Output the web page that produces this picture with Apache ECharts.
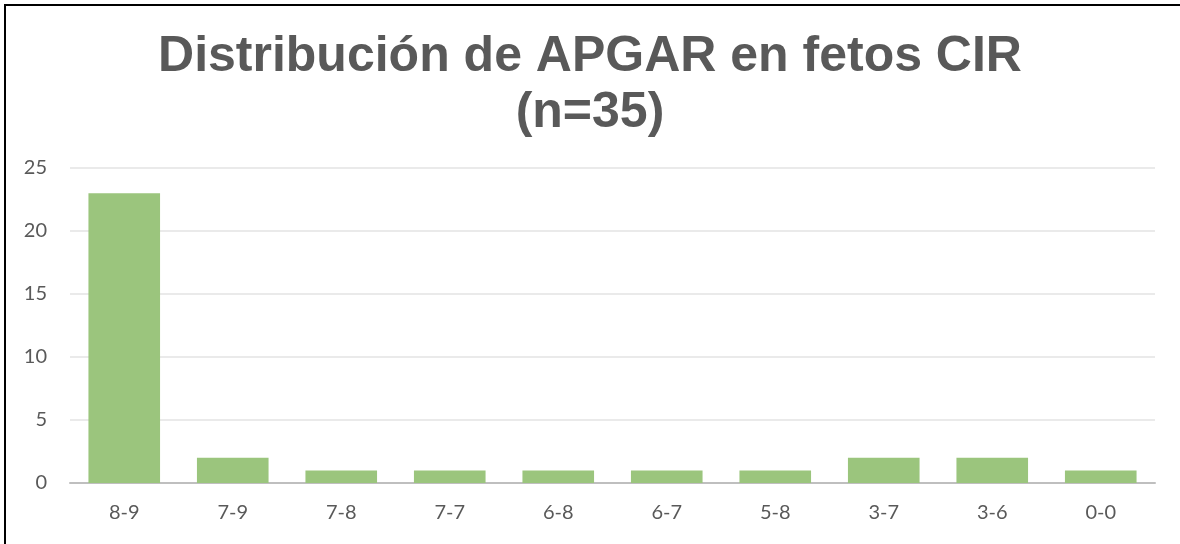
<!DOCTYPE html>
<html>
<head>
<meta charset="utf-8">
<script src="https://cdn.jsdelivr.net/npm/echarts@6/dist/echarts.min.js"></script>
<style>
  html, body { margin: 0; padding: 0; background: #fff; overflow: hidden; }
  #chart { width: 1180px; height: 544px; }
  .frame {
    position: absolute; left: 4px; top: 4px; width: 1176px; height: 540px;
    border-top: 2px solid #000; border-left: 2px solid #000;
    box-sizing: border-box;
    pointer-events: none;
  }
</style>
</head>
<body>
<div id="chart"></div>
<div class="frame"></div>
<script>
const titleText = 'Distribución de APGAR en fetos CIR\n(n=35)';
const categories = ['8-9', '7-9', '7-8', '7-7', '6-8', '6-7', '5-8', '3-7', '3-6', '0-0'];
const counts = [23, 2, 1, 1, 1, 1, 1, 2, 2, 1];

const myChart = echarts.init(document.getElementById('chart'));
const option = {
    animation: false,
    title: {
        text: titleText,
        left: 'center',
        top: 24,
        textStyle: {
            fontFamily: 'Liberation Sans',
            fontWeight: 'bold',
            fontSize: 50,
            lineHeight: 56,
            color: '#595959'
        }
    },
    grid: {
        left: 70,
        right: 25,
        top: 168,
        bottom: 61
    },
    xAxis: {
        type: 'category',
        data: categories,
        axisLine: { lineStyle: { color: '#bfbfbf', width: 2 } },
        axisTick: { show: false },
        axisLabel: {
            color: '#595959',
            fontFamily: 'Lato',
            fontSize: 20,
            margin: 20
        }
    },
    yAxis: {
        type: 'value',
        min: 0,
        max: 25,
        interval: 5,
        axisLine: { show: false },
        axisTick: { show: false },
        splitLine: { lineStyle: { color: '#e3e3e3', width: 1.5 } },
        axisLabel: {
            color: '#595959',
            fontFamily: 'Lato',
            fontSize: 20,
            margin: 23
        }
    },
    series: [
        {
            name: 'APGAR',
            type: 'bar',
            barWidth: '66%',
            itemStyle: { color: '#9bc57d' },
            data: counts
        }
    ]
};
myChart.setOption(option);
</script>
</body>
</html>
